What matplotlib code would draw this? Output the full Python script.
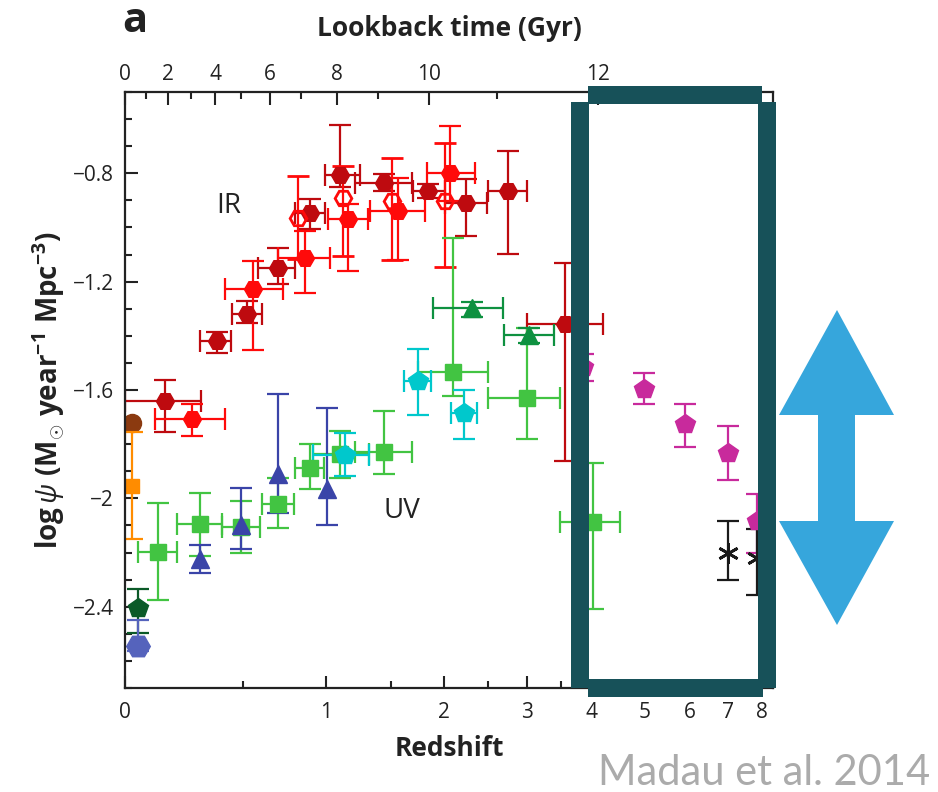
import numpy as np
import matplotlib.pyplot as plt
from matplotlib.patches import Rectangle, Polygon
from matplotlib.ticker import MultipleLocator

plt.rcParams['font.family'] = ['Open Sans', 'DejaVu Sans']
plt.rcParams['mathtext.fontset'] = 'custom'
plt.rcParams['mathtext.rm'] = 'Open Sans'
plt.rcParams['mathtext.bf'] = 'Open Sans:bold'
plt.rcParams['mathtext.it'] = 'Open Sans:italic'

# ---- data: redshift, z-range, log psi, log psi range ----
# IR, filled dark red hexagons
ir_dark_z = [0.148, 0.373, 0.522, 0.694, 0.892, 1.099, 1.44, 1.842, 2.239, 2.746, 3.557]
ir_dark_zlo = [0.0, 0.295, 0.446, 0.582, 0.797, 0.993, 1.21, 1.698, 2.013, 2.496, 2.998]
ir_dark_zhi = [0.300, 0.441, 0.604, 0.797, 0.993, 1.248, 1.69, 2.013, 2.483, 2.998, 4.195]
ir_dark_y = [-1.641, -1.420, -1.320, -1.151, -0.948, -0.807, -0.837, -0.866, -0.911, -0.866, -1.357]
ir_dark_ylo = [-1.756, -1.464, -1.354, -1.210, -1.007, -0.852, -0.866, -0.892, -1.032, -1.099, -1.863]
ir_dark_yhi = [-1.563, -1.387, -1.272, -1.077, -0.896, -0.623, -0.804, -0.841, -0.822, -0.719, -1.132]

# IR, filled bright red hexagons
ir_red_z = [0.260, 0.555, 0.860, 1.157, 1.563, 2.065]
ir_red_zlo = [0.109, 0.411, 0.694, 1.014, 1.327, 1.832]
ir_red_zhi = [0.411, 0.724, 1.027, 1.311, 1.813, 2.342]
ir_red_y = [-1.708, -1.228, -1.114, -0.970, -0.940, -0.800]
ir_red_ylo = [-1.770, -1.453, -1.243, -1.162, -1.121, -0.903]
ir_red_yhi = [-1.652, -1.125, -1.014, -0.914, -0.818, -0.627]

# IR, open red hexagons
ir_open_z = [0.816, 1.120, 1.510, 2.013]
ir_open_y = [-0.966, -0.892, -0.903, -0.903]
ir_open_ylo = [-1.117, -1.106, -1.121, -1.147]
ir_open_yhi = [-0.811, -0.774, -0.745, -0.689]

# UV, light green squares
uv_green_z = [0.120, 0.295, 0.492, 0.694, 0.892, 1.099, 1.442, 2.097, 2.998, 4.018]
uv_green_zlo = [0.046, 0.196, 0.397, 0.604, 0.797, 0.912, 1.21, 1.746, 2.496, 3.479]
uv_green_zhi = [0.196, 0.397, 0.593, 0.791, 0.986, 1.319, 1.69, 2.496, 3.479, 4.508]
uv_green_y = [-2.199, -2.095, -2.106, -2.021, -1.889, -1.837, -1.829, -1.534, -1.630, -2.088]
uv_green_ylo = [-2.376, -2.213, -2.202, -2.110, -1.966, -1.925, -1.911, -1.623, -1.782, -2.409]
uv_green_yhi = [-2.018, -1.981, -2.010, -1.925, -1.800, -1.752, -1.678, -1.040, -1.372, -1.870]

# UV, blue triangles
uv_blue_z = [0.295, 0.492, 0.694, 1.006]
uv_blue_y = [-2.224, -2.100, -1.911, -1.966]
uv_blue_ylo = [-2.276, -2.187, -2.055, -2.099]
uv_blue_yhi = [-2.173, -1.962, -1.615, -1.667]

# UV, dark green triangles
uv_dgreen_z = [2.307, 3.026]
uv_dgreen_zlo = [1.892, 2.694]
uv_dgreen_zhi = [2.682, 3.387]
uv_dgreen_y = [-1.298, -1.398]
uv_dgreen_ylo = [-1.331, -1.427]
uv_dgreen_yhi = [-1.276, -1.372]

# UV, cyan pentagons
uv_cyan_z = [1.135, 1.746, 2.217]
uv_cyan_zlo = [0.912, 1.616, 2.076]
uv_cyan_zhi = [1.319, 1.872, 2.365]
uv_cyan_y = [-1.841, -1.568, -1.686]
uv_cyan_ylo = [-1.918, -1.693, -1.782]
uv_cyan_yhi = [-1.759, -1.449, -1.601]

# UV, magenta pentagons
uv_mag_z = [3.85, 4.984, 5.891, 6.991, 7.833]
uv_mag_y = [-1.516, -1.597, -1.726, -1.833, -2.084]
uv_mag_ylo = [-1.568, -1.652, -1.811, -1.933, -2.202]
uv_mag_yhi = [-1.468, -1.538, -1.652, -1.734, -1.985]

# UV, black asterisks
uv_star_z = [6.991, 7.833]
uv_star_y = [-2.202, -2.221]
uv_star_ylo = [-2.302, -2.357]
uv_star_yhi = [-2.084, -2.114]

# local single points
loc_brown = (0.024, -1.723)
loc_orange = (0.024, -1.955, -2.151, -1.756)
loc_pent = (0.046, -2.405, -2.497, -2.335)
loc_hex = (0.046, -2.545, -2.564, -2.449)


def fwd(z):
    return np.log10(np.maximum(1 + np.asarray(z, dtype=float), 1e-9))


def inv(x):
    return 10 ** np.asarray(x, dtype=float) - 1


def lookback_to_z(t):
    # flat LCDM, H0=70, Om=0.3, OL=0.7
    A = 2.0 / (3.0 * np.sqrt(0.7)) * (977.8 / 70.0)
    B = np.sqrt(0.7 / 0.3)
    age0 = A * np.arcsinh(B)
    return (np.sinh((age0 - np.asarray(t, dtype=float)) / A) / B) ** (-2.0 / 3.0) - 1


def err(v, lo, hi):
    v = np.asarray(v)
    return [v - np.asarray(lo), np.asarray(hi) - v]


fig = plt.figure(figsize=(9.38, 7.92), dpi=100)
ax = fig.add_axes([125 / 938, 104 / 792, 648 / 938, 596 / 792])
ax.set_xscale('function', functions=(fwd, inv))

eb = dict(ls='none', capsize=8, elinewidth=1.6, capthick=1.6)

ax.errorbar(ir_dark_z, ir_dark_y, yerr=err(ir_dark_y, ir_dark_ylo, ir_dark_yhi),
            xerr=err(ir_dark_z, ir_dark_zlo, ir_dark_zhi), fmt='H', ms=13,
            color='#BE0A0F', mec='#BE0A0F', **eb)
ax.errorbar(ir_red_z, ir_red_y, yerr=err(ir_red_y, ir_red_ylo, ir_red_yhi),
            xerr=err(ir_red_z, ir_red_zlo, ir_red_zhi), fmt='H', ms=13,
            color='#FF0A0A', mec='#FF0A0A', **eb)
ax.errorbar(ir_open_z, ir_open_y, yerr=err(ir_open_y, ir_open_ylo, ir_open_yhi),
            fmt='H', ms=12, color='#FF0A0A', mfc='none', mec='#FF0A0A', mew=2, **eb)

ax.errorbar(uv_green_z, uv_green_y, yerr=err(uv_green_y, uv_green_ylo, uv_green_yhi),
            xerr=err(uv_green_z, uv_green_zlo, uv_green_zhi), fmt='s', ms=11,
            color='#42C442', **eb)
ax.errorbar(uv_blue_z, uv_blue_y, yerr=err(uv_blue_y, uv_blue_ylo, uv_blue_yhi),
            fmt='^', ms=13, color='#3A44A8', **eb)
ax.errorbar(uv_dgreen_z, uv_dgreen_y, yerr=err(uv_dgreen_y, uv_dgreen_ylo, uv_dgreen_yhi),
            xerr=err(uv_dgreen_z, uv_dgreen_zlo, uv_dgreen_zhi), fmt='^', ms=13,
            color='#0E9140', **eb)
ax.errorbar(uv_cyan_z, uv_cyan_y, yerr=err(uv_cyan_y, uv_cyan_ylo, uv_cyan_yhi),
            xerr=err(uv_cyan_z, uv_cyan_zlo, uv_cyan_zhi), fmt='p', ms=15,
            color='#00C8CC', **eb)
ax.errorbar(uv_mag_z, uv_mag_y, yerr=err(uv_mag_y, uv_mag_ylo, uv_mag_yhi),
            fmt='p', ms=15, color='#C82A9C', **eb)
ax.errorbar(uv_star_z, uv_star_y, yerr=err(uv_star_y, uv_star_ylo, uv_star_yhi),
            fmt='none', color='#1A1A1A', **eb)
ax.plot(uv_star_z, uv_star_y, ls='none', marker=(6, 2, 0), ms=15, mew=2, color='#1A1A1A')

ax.plot(loc_brown[0], loc_brown[1], 'o', ms=13, color='#8B3A10')
ax.errorbar(loc_orange[0], loc_orange[1], yerr=[[loc_orange[1] - loc_orange[2]], [loc_orange[3] - loc_orange[1]]],
            fmt='s', ms=10, color='#FF8C00', **eb)
ax.errorbar(loc_pent[0], loc_pent[1], yerr=[[loc_pent[1] - loc_pent[2]], [loc_pent[3] - loc_pent[1]]],
            fmt='p', ms=15, color='#0B5A28', **eb)
ax.errorbar(loc_hex[0], loc_hex[1], yerr=[[loc_hex[1] - loc_hex[2]], [loc_hex[3] - loc_hex[1]]],
            fmt='H', ms=17, color='#5563BC', **eb)

ax.text(0.43, -0.922, 'IR', fontsize=20, color='#222222', ha='center', va='center')
ax.text(1.60, -2.047, 'UV', fontsize=20, color='#222222', ha='center', va='center')

ax.set_xlim(0, 8.34)
ax.set_ylim(-2.7, -0.5)

ax.set_xticks([0, 1, 2, 3], labels=['0', '1', '2', '3'])
ax.set_xticks([0.5, 1.5, 2.5, 3.5, 4, 5, 6, 7, 8],
              labels=['', '', '', '', '4', '5', '6', '7', '8'], minor=True)
ax.set_yticks([-2.4, -2.0, -1.6, -1.2, -0.8], labels=['\u22122.4', '\u22122', '\u22121.6', '\u22121.2', '\u22120.8'])
ax.yaxis.set_minor_locator(MultipleLocator(0.1))
ax.tick_params(which='both', direction='in', width=1.5, labelsize=15, colors='#222222')
ax.tick_params(which='major', length=9)
ax.tick_params(which='minor', length=5)
ax.tick_params(axis='x', which='both', pad=10)
ax.tick_params(axis='y', which='both', pad=8)
for s in ax.spines.values():
    s.set_linewidth(1.6)
    s.set_color('#222222')

ax.set_xlabel('Redshift', fontsize=19, fontweight='bold', labelpad=9, color='#222222')
ax.set_ylabel(r'$\mathbf{log}\,\psi\ \mathbf{(M_{\odot}\ year^{-1}\ Mpc^{-3})}$',
              fontsize=20, labelpad=4, color='#222222')

# top axis: lookback time
ax2 = ax.twiny()
ax2.set_xscale('function', functions=(fwd, inv))
ax2.set_xlim(ax.get_xlim())
t_major = [0, 2, 4, 6, 8, 10, 12]
t_minor = [1, 3, 5, 7, 9, 11]
ax2.set_xticks(lookback_to_z(t_major), labels=[str(t) for t in t_major])
ax2.set_xticks(lookback_to_z(t_minor), minor=True)
ax2.tick_params(which='both', direction='in', width=1.5, labelsize=15, pad=5, colors='#222222')
ax2.tick_params(which='major', length=9)
ax2.tick_params(which='minor', length=5)
ax2.set_xlabel('Lookback time (Gyr)', fontsize=19, fontweight='bold', labelpad=20, color='#222222')
for s in ax2.spines.values():
    s.set_visible(False)

fig.text(135 / 938, 1 - 22 / 792, 'a', fontsize=30, fontweight='bold', color='#222222',
         ha='center', va='center')

# highlight box and arrow overlay
box_col = '#175159'


def fr(x, y):
    return (x / 938, 1 - y / 792)


for x0, y0, x1, y1 in [(571, 102, 589, 688), (588, 86, 762, 104),
                       (758, 102, 776, 688), (588, 679, 763, 697)]:
    fig.add_artist(Rectangle(fr(x0, y1), (x1 - x0) / 938, (y1 - y0) / 792,
                             transform=fig.transFigure, color=box_col, lw=0, zorder=10))

arrow_px = [(837, 310), (894, 415), (855, 415), (855, 521), (894, 521), (837, 625),
            (779, 521), (818, 521), (818, 415), (779, 415)]
fig.add_artist(Polygon([fr(x, y) for x, y in arrow_px], closed=True, transform=fig.transFigure,
                       color='#36A6DC', lw=0, zorder=10))

fig.text(930 / 938, 1 - 785 / 792, 'Madau et al. 2014', fontsize=30, color='#ABABAB',
         family=['Lato', 'DejaVu Sans'], fontweight='normal', ha='right', va='baseline')

fig.savefig('out.png', dpi=100)
